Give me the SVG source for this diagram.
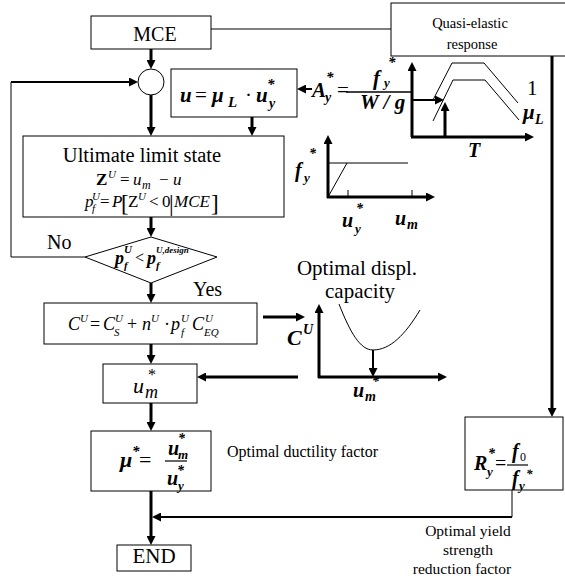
<svg xmlns="http://www.w3.org/2000/svg" width="565" height="585" viewBox="0 0 565 585">
<style>
text { font-family: "Liberation Serif", "Times New Roman", serif; fill: #000; }
.bi { font-weight: bold; font-style: italic; }
.it { font-style: italic; }
.n { font-style: normal; font-weight: normal; }
.box { fill: #fff; stroke: #000; stroke-width: 1; }
.thick { fill: none; stroke: #000; stroke-width: 3; }
.mid { fill: none; stroke: #000; stroke-width: 2; }
.thin { fill: none; stroke: #000; stroke-width: 1; }
</style>
<defs>
<marker id="ah" viewBox="0 0 9 9" refX="5" refY="4.5" markerWidth="9" markerHeight="9" markerUnits="userSpaceOnUse" orient="auto">
<path d="M0,0 L9,4.5 L0,9 z" fill="#000"/>
</marker>
</defs>

<g id="connectors">
<line class="thin" x1="211" y1="29" x2="391" y2="29"/>
<line class="thick" x1="151" y1="49" x2="151" y2="65" marker-end="url(#ah)"/>
<line class="thick" x1="151" y1="95" x2="151" y2="132" marker-end="url(#ah)"/>
<polyline class="thin" points="85,257 11,257 11,82"/>
<line class="mid" x1="11" y1="82" x2="134" y2="82" marker-end="url(#ah)"/>
<line class="thick" x1="252" y1="117" x2="252" y2="132" marker-end="url(#ah)"/>
<line class="mid" x1="312" y1="89" x2="301" y2="89" marker-end="url(#ah)"/>
<line class="thick" x1="151" y1="217" x2="151" y2="233" marker-end="url(#ah)"/>
<line class="thick" x1="151" y1="283" x2="151" y2="299" marker-end="url(#ah)"/>
<line class="thick" x1="263" y1="317" x2="301" y2="317" marker-end="url(#ah)"/>
<line class="thick" x1="151" y1="344" x2="151" y2="360" marker-end="url(#ah)"/>
<line class="thick" x1="298" y1="377" x2="201" y2="377" marker-end="url(#ah)"/>
<line class="thick" x1="151" y1="403" x2="151" y2="427" marker-end="url(#ah)"/>
<line class="thick" x1="151" y1="491" x2="151" y2="541" marker-end="url(#ah)"/>
<line class="thick" x1="552" y1="56" x2="552" y2="413" marker-end="url(#ah)"/>
<line class="thin" x1="512" y1="490" x2="512" y2="517"/>
<line class="mid" x1="512" y1="517" x2="156" y2="517" marker-end="url(#ah)"/>
</g>

<g id="mce">
<rect class="box" x="91" y="16" width="120" height="33"/>
<text x="155" y="41" font-size="20" text-anchor="middle">MCE</text>
</g>

<g id="quasi">
<rect class="box" x="391" y="3" width="180" height="53"/>
<text x="470" y="28" font-size="14.5" text-anchor="middle">Quasi-elastic</text>
<text x="472" y="49" font-size="14.5" text-anchor="middle">response</text>
</g>

<g id="junction">
<circle cx="151" cy="82" r="13" fill="#fff" stroke="#000" stroke-width="1"/>
</g>

<g id="ubox">
<rect class="box" x="171" y="69" width="126" height="48"/>
<text class="bi" font-size="21"><tspan x="180" y="102">u</tspan><tspan class="n" x="195" y="102">=</tspan><tspan x="212" y="102">μ</tspan><tspan x="228" y="107" font-size="15">L</tspan><tspan class="n" x="245" y="102">·</tspan><tspan x="256" y="102">u</tspan><tspan x="269" y="108" font-size="14">y</tspan><tspan x="267" y="89" font-size="15">*</tspan></text>
</g>

<g id="uls">
<rect class="box" x="23" y="136" width="261" height="81"/>
<text x="142" y="162" font-size="20.5" text-anchor="middle">Ultimate limit state</text>
<text font-size="17"><tspan x="96" y="185" font-weight="bold">Z</tspan><tspan class="it" x="108" y="178" font-size="11">U</tspan><tspan x="120" y="185">=</tspan><tspan class="it" x="133" y="185">u</tspan><tspan class="it" x="142" y="189" font-size="12">m</tspan><tspan x="159" y="185">−</tspan><tspan class="it" x="173" y="185">u</tspan></text>
<text font-size="17"><tspan class="it" x="85" y="207">p</tspan><tspan class="it" x="92" y="200" font-size="11">U</tspan><tspan class="it" x="92" y="212" font-size="11">f</tspan><tspan x="100" y="207">=</tspan><tspan class="it" x="112" y="207">P</tspan><tspan x="121" y="211" font-size="23">[</tspan><tspan x="128" y="207">Z</tspan><tspan class="it" x="138" y="200" font-size="11">U</tspan><tspan x="149" y="207">&lt;</tspan><tspan x="162" y="207">0</tspan><tspan x="169" y="211" font-size="23">|</tspan><tspan class="it" x="174" y="207">MCE</tspan><tspan x="211" y="211" font-size="23">]</tspan></text>
</g>

<g id="decision">
<polygon class="box" points="151,237 217,257 151,283 85,257"/>
<text class="bi" font-size="18"><tspan x="115" y="264">p</tspan><tspan x="124" y="253" font-size="11">U</tspan><tspan x="124" y="269" font-size="11">f</tspan><tspan class="n" x="135" y="263" font-size="16">&lt;</tspan><tspan x="147" y="264">p</tspan><tspan x="156" y="253" font-size="9">U,design</tspan><tspan x="156" y="269" font-size="11">f</tspan></text>
<text x="47" y="249" font-size="20">No</text>
<text x="193" y="296" font-size="20">Yes</text>
</g>

<g id="cost">
<rect class="box" x="44" y="303" width="213" height="41"/>
<text class="it" font-size="18"><tspan x="68" y="330">C</tspan><tspan x="80" y="322" font-size="11">U</tspan><tspan class="n" x="90" y="330">=</tspan><tspan x="103" y="330">C</tspan><tspan x="115" y="322" font-size="11">U</tspan><tspan x="114" y="336" font-size="11">S</tspan><tspan class="n" x="127" y="330">+</tspan><tspan x="142" y="330">n</tspan><tspan x="151" y="322" font-size="11">U</tspan><tspan class="n" x="164" y="330">·</tspan><tspan x="171" y="330">p</tspan><tspan x="181" y="322" font-size="11">U</tspan><tspan x="181" y="336" font-size="11">f</tspan><tspan x="192" y="330">C</tspan><tspan x="205" y="322" font-size="11">U</tspan><tspan x="204" y="336" font-size="11">EQ</tspan></text>
</g>

<g id="umbox">
<rect class="box" x="103" y="364" width="94" height="39"/>
<text class="it" font-size="22"><tspan x="133" y="393">u</tspan><tspan x="145" y="398" font-size="18">m</tspan><tspan class="n" x="148" y="380" font-size="16">*</tspan></text>
</g>

<g id="mubox">
<rect class="box" x="91" y="431" width="120" height="60"/>
<text class="bi" font-size="22"><tspan x="120" y="467">μ</tspan><tspan x="132" y="456" font-size="15">*</tspan><tspan class="n" x="139" y="467">=</tspan></text>
<line x1="165" y1="461" x2="187" y2="461" stroke="#000" stroke-width="1.2"/>
<text class="bi" font-size="20"><tspan x="168" y="455">u</tspan><tspan x="178" y="459" font-size="13">m</tspan><tspan x="178" y="443" font-size="14">*</tspan><tspan x="167" y="485">u</tspan><tspan x="178" y="490" font-size="13">y</tspan><tspan x="177" y="475" font-size="14">*</tspan></text>
<text x="227" y="457" font-size="16">Optimal ductility factor</text>
</g>

<g id="end">
<rect class="box" x="117" y="545" width="74" height="26"/>
<text x="154" y="563" font-size="21" text-anchor="middle">END</text>
</g>

<g id="rbox">
<rect class="box" x="465" y="417" width="98" height="73"/>
<text class="bi" font-size="20"><tspan x="474" y="470">R</tspan><tspan x="487" y="476" font-size="13">y</tspan><tspan x="488" y="458" font-size="14">*</tspan><tspan class="n" x="495" y="470">=</tspan></text>
<line x1="507" y1="465" x2="528" y2="465" stroke="#000" stroke-width="1.2"/>
<text class="bi" font-size="20"><tspan x="512" y="458">f</tspan><tspan class="n" x="520" y="461" font-size="12">0</tspan><tspan x="512" y="485">f</tspan><tspan x="519" y="490" font-size="13">y</tspan><tspan x="526" y="478" font-size="13">*</tspan></text>
<text x="468" y="536" font-size="15.5" text-anchor="middle">Optimal yield</text>
<text x="468" y="555" font-size="15.5" text-anchor="middle">strength</text>
<text x="462" y="574" font-size="15.5" text-anchor="middle">reduction factor</text>
</g>

<g id="spectrum">
<line class="thick" x1="412" y1="137" x2="412" y2="66" marker-end="url(#ah)"/>
<line class="thick" x1="411" y1="137" x2="530" y2="137" marker-end="url(#ah)"/>
<polyline class="thin" points="433,100 452,63 484,63 518,103"/>
<polyline class="thin" points="433,121 453,80 485,80 519,120"/>
<line class="mid" x1="412" y1="100" x2="440" y2="100" marker-end="url(#ah)"/>
<line class="thick" x1="445" y1="137" x2="445" y2="106" marker-end="url(#ah)"/>
<line x1="346" y1="92" x2="412" y2="92" stroke="#000" stroke-width="1.5"/>
<text class="bi" font-size="21"><tspan x="312" y="97">A</tspan><tspan x="325" y="102" font-size="14">y</tspan><tspan x="326" y="82" font-size="15">*</tspan><tspan class="n" x="337" y="97">=</tspan><tspan x="373" y="85">f</tspan><tspan x="384" y="87" font-size="13">y</tspan><tspan x="388" y="67" font-size="15">*</tspan><tspan x="360" y="109">W / g</tspan></text>
<text x="527" y="95" font-size="21">1</text>
<text class="bi" font-size="21"><tspan x="523" y="119">μ</tspan><tspan x="535" y="124" font-size="14">L</tspan></text>
<text class="bi" x="468" y="157" font-size="20">T</text>
</g>

<g id="capacity-curve">
<line class="thick" x1="328" y1="198" x2="328" y2="139" marker-end="url(#ah)"/>
<line class="thick" x1="327" y1="197" x2="431" y2="197" marker-end="url(#ah)"/>
<line class="thin" x1="328" y1="197" x2="347" y2="163"/>
<line class="thin" x1="328" y1="163" x2="408" y2="163"/>
<line class="thin" x1="348" y1="197" x2="348" y2="190"/>
<line class="thin" x1="412" y1="197" x2="412" y2="190"/>
<text class="bi" font-size="20"><tspan x="295" y="177">f</tspan><tspan x="304" y="182" font-size="13">y</tspan><tspan x="309" y="158" font-size="14">*</tspan></text>
<text class="bi" font-size="20"><tspan x="342" y="227">u</tspan><tspan x="355" y="233" font-size="13">y</tspan><tspan x="356" y="213" font-size="14">*</tspan></text>
<text class="bi" font-size="20"><tspan x="395" y="225">u</tspan><tspan x="407" y="229" font-size="14">m</tspan></text>
</g>

<g id="cost-curve">
<text x="357" y="275" font-size="21" text-anchor="middle">Optimal displ.</text>
<text x="360" y="298" font-size="21" text-anchor="middle">capacity</text>
<line class="thick" x1="319" y1="378" x2="319" y2="308" marker-end="url(#ah)"/>
<line class="thick" x1="318" y1="377" x2="443" y2="377" marker-end="url(#ah)"/>
<path class="thin" d="M339,304 C350,332 360,350 373,350 C390,350 405,335 420,310"/>
<line class="mid" x1="373" y1="350" x2="373" y2="373" marker-end="url(#ah)"/>
<text class="bi" font-size="22"><tspan x="287" y="345">C</tspan><tspan x="303" y="334" font-size="14">U</tspan></text>
<text class="bi" font-size="20"><tspan x="353" y="397">u</tspan><tspan x="365" y="401" font-size="14">m</tspan><tspan x="372" y="386" font-size="14">*</tspan></text>
</g>
</svg>
